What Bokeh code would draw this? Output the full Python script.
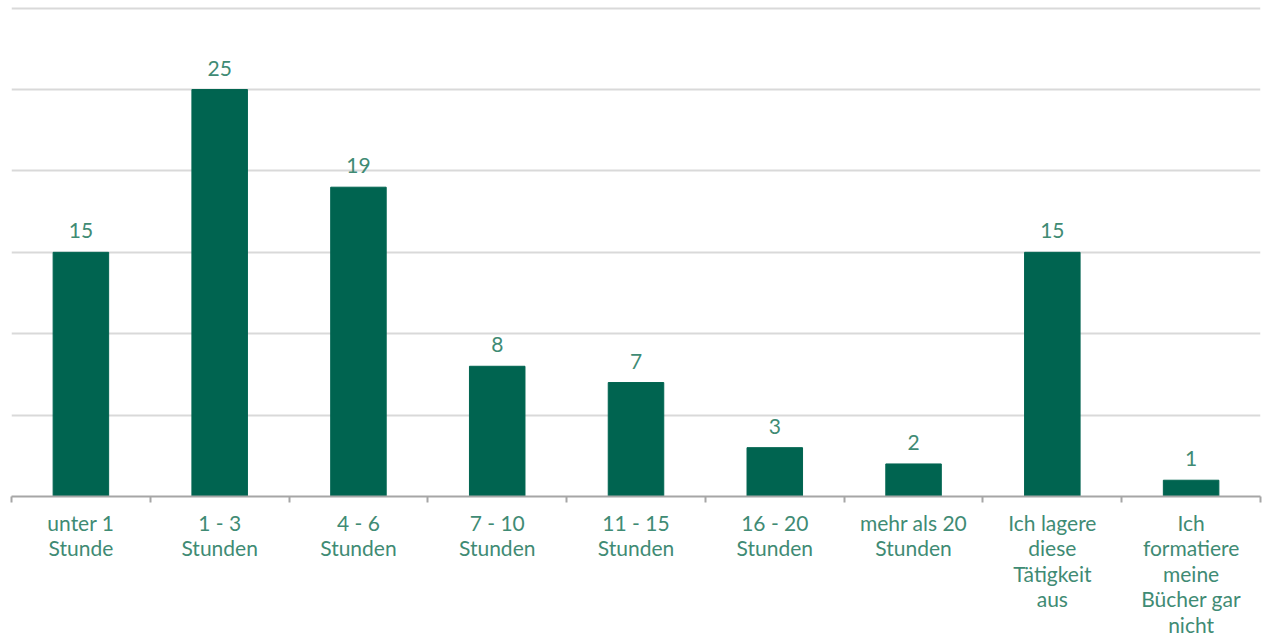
from bokeh.plotting import figure
from bokeh.models import ColumnDataSource, Range1d, FixedTicker, LabelSet
from bokeh.core.properties import value
from bokeh.embed import file_html
from bokeh.resources import INLINE

# Weekly hours spent formatting books
categories = [
    "unter 1\nStunde",
    "1 - 3\nStunden",
    "4 - 6\nStunden",
    "7 - 10\nStunden",
    "11 - 15\nStunden",
    "16 - 20\nStunden",
    "mehr als 20\nStunden",
    "Ich lagere\ndiese\nTätigkeit\naus",
    "Ich\nformatiere\nmeine\nBücher gar\nnicht",
]
values = [15, 25, 19, 8, 7, 3, 2, 15, 1]

BAR = "#006450"
TEXT = "#3f8b74"
FONT = "Lato"

centers = [i + 0.5 for i in range(len(categories))]
source = ColumnDataSource(dict(x=centers, top=values, label=[str(v) for v in values]))

p = figure(
    width=1263, height=639,
    x_range=Range1d(0, len(categories)), y_range=Range1d(0, 30.1),
    output_backend="svg", toolbar_location=None,
    min_border_left=11, min_border_right=3, min_border_top=6, min_border_bottom=141,
)
p.outline_line_color = None
p.background_fill_color = "white"
p.border_fill_color = "white"

p.vbar(x="x", top="top", width=0.4, bottom=0, source=source, color=BAR)

labels = LabelSet(x="x", y="top", text="label", source=source,
                  text_align="center", text_baseline="bottom", y_offset=14,
                  text_font=value(FONT), text_font_size="21px", text_color=TEXT)
p.add_layout(labels)

# horizontal grid
p.yaxis.visible = False
p.xgrid.visible = False
p.ygrid.ticker = FixedTicker(ticks=[5, 10, 15, 20, 25, 30])
p.ygrid.grid_line_color = "#d9d9d9"
p.ygrid.grid_line_width = 2

# category axis: labels at centers, tick marks at boundaries
xa = p.xaxis[0]
xa.ticker = FixedTicker(ticks=centers, minor_ticks=list(range(len(categories) + 1)))
xa.major_label_overrides = {c: lab for c, lab in zip(centers, categories)}
xa.major_tick_line_color = None
xa.major_tick_in = 0
xa.major_tick_out = 6
xa.minor_tick_in = 0
xa.minor_tick_out = 6
xa.minor_tick_line_color = "#a6a6a6"
xa.minor_tick_line_width = 2
xa.axis_line_color = "#a6a6a6"
xa.axis_line_width = 2
xa.major_label_text_font = FONT
xa.major_label_text_font_size = "21px"
xa.major_label_text_color = TEXT
xa.major_label_text_line_height = 1.02
xa.major_label_standoff = 7

open("out.html", "w").write(file_html(p, INLINE))
